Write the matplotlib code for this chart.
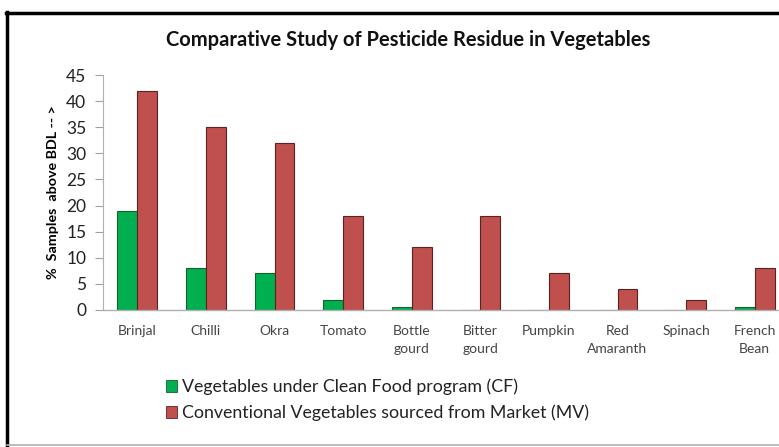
import numpy as np
import matplotlib.pyplot as plt
from matplotlib.patches import Patch
from matplotlib.lines import Line2D

vegetables = ["Brinjal", "Chilli", "Okra", "Tomato", "Bottle\ngourd", "Bitter\ngourd",
              "Pumpkin", "Red\nAmaranth", "Spinach", "French\nBean"]
clean_food = [19, 8, 7, 2, 0.5, 0, 0, 0, 0, 0.5]
market = [42, 35, 32, 18, 12, 18, 7, 4, 2, 8]

green = "#00B050"
red = "#C0504D"

plt.rcParams['font.family'] = ['Lato', 'DejaVu Sans']

fig = plt.figure(figsize=(7.79, 4.47), dpi=100)
ax = fig.add_axes([103 / 779, 1 - 310 / 447, 686 / 779, 235 / 447])

x = np.arange(len(vegetables))
w = 0.29
ax.bar(x - w / 2, clean_food, w, color=green, edgecolor="#1a5e2a", linewidth=0.8)
ax.bar(x + w / 2, market, w, color=red, edgecolor="#5a2220", linewidth=0.8)

ax.set_xlim(-0.5, 9.5)
ax.set_ylim(0, 45)
ax.set_yticks(range(0, 46, 5))
ax.tick_params(axis='y', labelsize=12.5, length=6, pad=6, labelcolor="#222222", color="#a0a0a0")
ax.set_xticks(x)
ax.set_xticklabels(vegetables, fontsize=10, color="#444444", linespacing=1.55)
ax.tick_params(axis='x', length=0, pad=11)
for side in ("top", "right"):
    ax.spines[side].set_visible(False)
ax.spines["left"].set_color("#b0b0b0")
ax.spines["bottom"].set_color("#b0b0b0")
ax.spines["left"].set_linewidth(0.8)
ax.spines["bottom"].set_linewidth(1.0)

ax.set_ylabel("%  Samples  above BDL -- >", fontsize=10.3, fontweight="bold", labelpad=5)

fig.text(408 / 779, 1 - 40 / 447, "Comparative Study of Pesticide Residue in Vegetables",
         ha="center", va="center", fontsize=14.5, fontweight="bold", color="#111111")

handles = [Patch(facecolor=green, edgecolor="#1a5e2a", linewidth=0.6),
           Patch(facecolor=red, edgecolor="#5a2220", linewidth=0.6)]
labels = ["Vegetables under Clean Food program (CF)",
          "Conventional Vegetables sourced from Market (MV)"]
fig.legend(handles, labels, loc="upper left", bbox_to_anchor=(157 / 779, 1 - 370 / 447),
           frameon=False, fontsize=12.8, handlelength=0.65, handleheight=0.65,
           handletextpad=0.25, labelspacing=0.5, borderpad=0, labelcolor="#222222")

# outer frame around the chart
fig.add_artist(Line2D([7 / 779, 7 / 779], [1 - 446 / 447, 1 - 12 / 447],
                      transform=fig.transFigure, color="black", linewidth=2.5))
fig.add_artist(Line2D([6 / 779, 1], [1 - 12.5 / 447, 1 - 12.5 / 447],
                      transform=fig.transFigure, color="black", linewidth=2.5))
fig.add_artist(Line2D([7 / 779, 1], [1 - 445 / 447, 1 - 445 / 447],
                      transform=fig.transFigure, color="#b0b0b0", linewidth=1.2))

fig.savefig("out.png", dpi=100)
